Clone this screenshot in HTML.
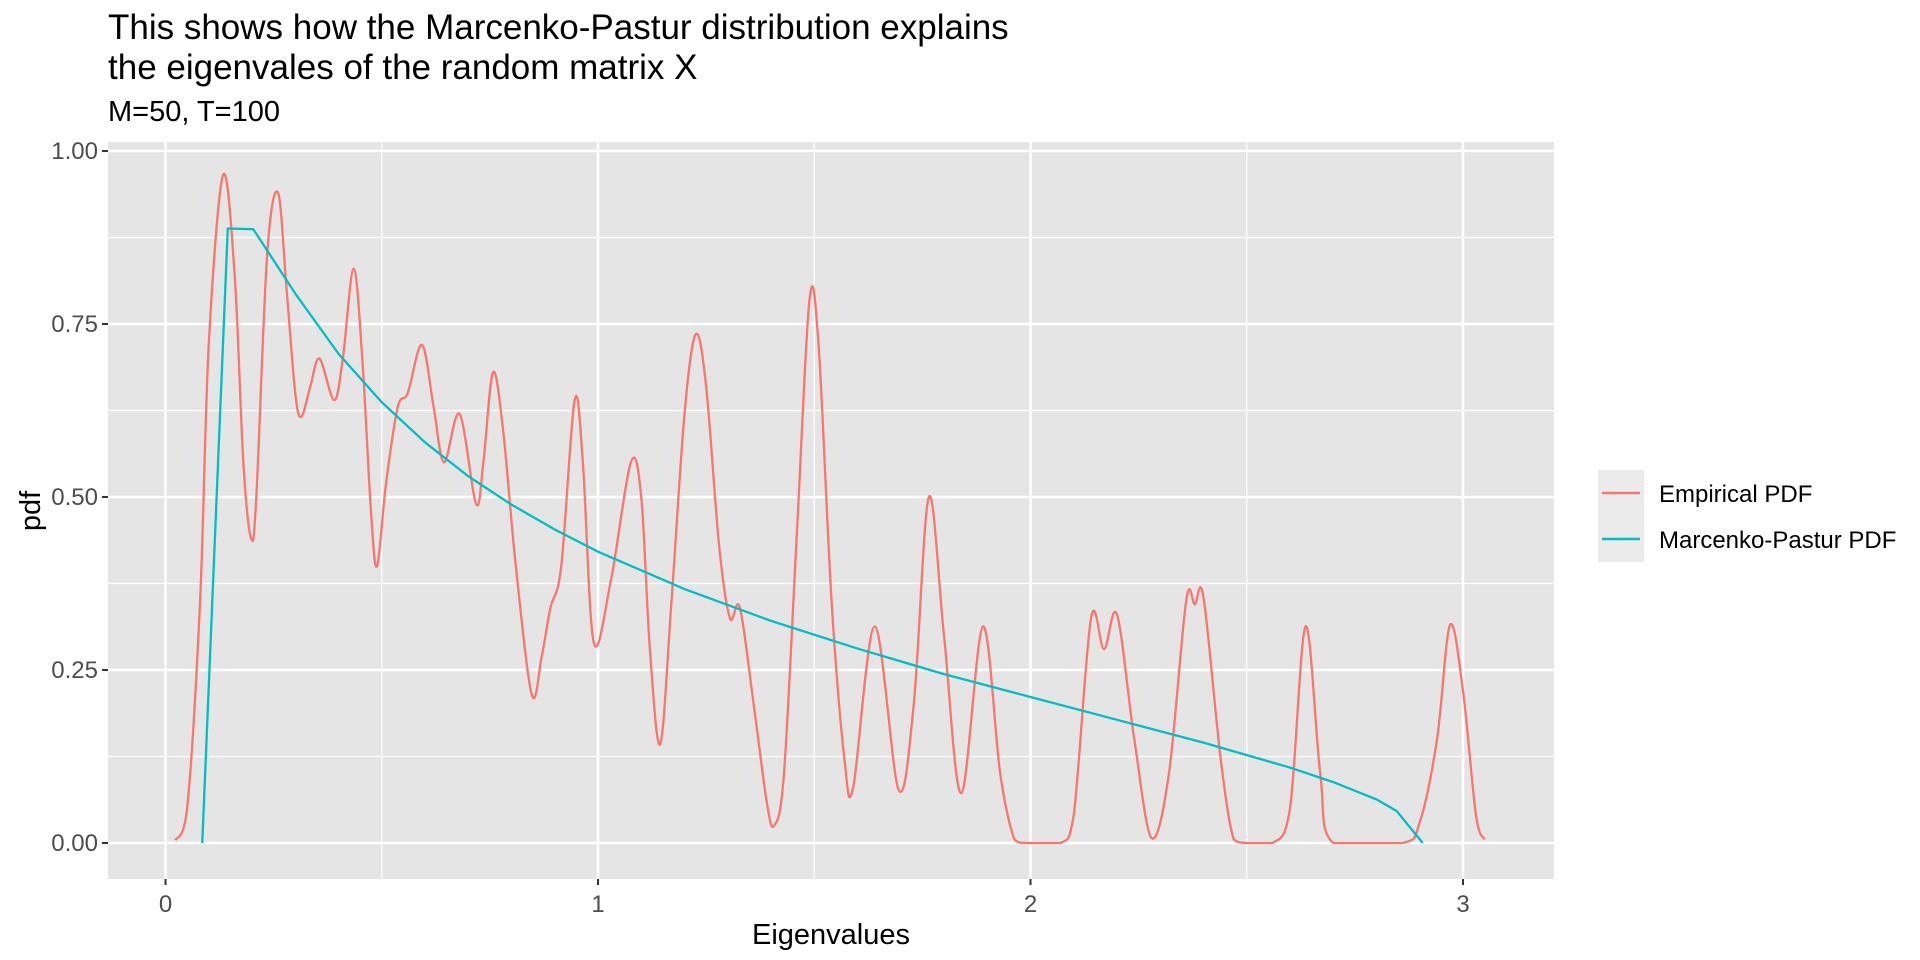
<!DOCTYPE html>
<html><head><meta charset="utf-8"><style>
body{margin:0;background:#fff;}
svg{display:block;font-family:"Liberation Sans",Arial,sans-serif;}
</style></head><body>
<svg id="chart" width="1920" height="960" viewBox="0 0 1920 960">
<text x="108" y="39" font-size="35" fill="#000">This shows how the Marcenko-Pastur distribution explains</text>
<text x="108" y="79" font-size="35" fill="#000">the eigenvales of the random matrix X</text>
<text x="108" y="121" font-size="29" fill="#000">M=50, T=100</text>
<rect x="108" y="142" width="1446" height="737" fill="#e5e5e5"/>
<g id="grid"></g>
<g id="axes"></g>
<g id="series"></g>
<text x="831" y="944" font-size="29" text-anchor="middle" fill="#000">Eigenvalues</text>
<text x="0" y="0" font-size="29" text-anchor="middle" fill="#000" transform="translate(40,511) rotate(-90)">pdf</text>
<g>
<rect x="1598" y="470" width="46" height="92" fill="#ebebeb"/>
<line x1="1602" y1="493" x2="1640" y2="493" stroke="#F8766D" stroke-width="2.5"/>
<line x1="1602" y1="539" x2="1640" y2="539" stroke="#00BFC4" stroke-width="2.5"/>
<text x="1659" y="502" font-size="24" fill="#000">Empirical PDF</text>
<text x="1659" y="548" font-size="24" fill="#000">Marcenko-Pastur PDF</text>
</g>
</svg>
<script>
const xTicks=[0,1,2,3];
const xTickLabels=["0","1","2","3"];
const xMinor=[0.5,1.5,2.5];
const yTicks=[0,0.25,0.5,0.75,1];
const yTickLabels=["0.00","0.25","0.50","0.75","1.00"];
const yMinor=[0.125,0.375,0.625,0.875];
const empX=[0.023,0.05,0.08,0.1,0.133,0.16,0.18,0.198,0.21,0.235,0.26,0.28,0.3,0.314,0.335,0.356,0.39,0.41,0.435,0.455,0.475,0.489,0.51,0.537,0.56,0.593,0.62,0.644,0.68,0.718,0.735,0.757,0.78,0.81,0.847,0.87,0.89,0.915,0.946,0.965,0.99,1.03,1.076,1.1,1.12,1.144,1.17,1.2,1.226,1.25,1.28,1.305,1.328,1.36,1.39,1.407,1.43,1.46,1.489,1.51,1.54,1.57,1.59,1.64,1.695,1.73,1.765,1.8,1.84,1.89,1.93,1.963,1.99,2.07,2.1,2.14,2.17,2.2,2.24,2.28,2.32,2.36,2.38,2.40,2.44,2.47,2.5,2.56,2.6,2.636,2.67,2.70,2.86,2.9,2.94,2.97,3.0,3.03,3.05];
const empY=[0.004,0.05,0.35,0.72,0.965,0.82,0.55,0.44,0.5,0.85,0.94,0.8,0.65,0.616,0.66,0.70,0.64,0.7,0.83,0.7,0.48,0.40,0.52,0.63,0.65,0.72,0.63,0.55,0.62,0.49,0.55,0.68,0.6,0.4,0.214,0.27,0.34,0.4,0.64,0.55,0.29,0.38,0.55,0.5,0.28,0.143,0.35,0.62,0.735,0.66,0.43,0.325,0.34,0.2,0.06,0.025,0.1,0.45,0.785,0.72,0.35,0.12,0.08,0.313,0.077,0.2,0.50,0.3,0.072,0.313,0.1,0.005,0,0,0.04,0.325,0.28,0.33,0.15,0.007,0.1,0.35,0.345,0.355,0.12,0.005,0,0,0.05,0.313,0.1,0,0,0.03,0.15,0.315,0.22,0.04,0.005];
const mpX=[0.085,0.144,0.203,0.25,0.3,0.4,0.5,0.6,0.7,0.8,0.9,1.0,1.2,1.4,1.6,1.8,2.0,2.2,2.4,2.6,2.7,2.8,2.847,2.907];
const mpY=[0,0.888,0.887,0.842,0.794,0.707,0.637,0.579,0.530,0.489,0.453,0.421,0.367,0.321,0.281,0.244,0.211,0.178,0.145,0.109,0.088,0.063,0.046,0];

const NS="http://www.w3.org/2000/svg";
const PL=108,PR=1554,PT=142,PB=879;
const X=v=>165.5+v*432.5;
const Y=v=>843-v*692;
function mk(tag,attrs,parent){const e=document.createElementNS(NS,tag);for(const k in attrs)e.setAttribute(k,attrs[k]);parent.appendChild(e);return e;}
const grid=document.getElementById('grid'),axes=document.getElementById('axes'),series=document.getElementById('series');
xMinor.forEach(v=>{const l=mk('line',{x1:X(v),x2:X(v),y1:PT,y2:PB,stroke:'#fff','stroke-width':1.2},grid);

});
yMinor.forEach(v=>{const l=mk('line',{x1:PL,x2:PR,y1:Y(v),y2:Y(v),stroke:'#fff','stroke-width':1.2},grid);

});
xTicks.forEach((v,i)=>{const l=mk('line',{x1:X(v),x2:X(v),y1:PT,y2:PB,stroke:'#fff','stroke-width':2.5},grid);


const t=mk('line',{x1:X(v),x2:X(v),y1:PB,y2:PB+6,stroke:'#333','stroke-width':2},axes);


const tx=mk('text',{x:X(v),y:912,'font-size':24,'text-anchor':'middle',fill:'#4d4d4d'},axes);tx.textContent=xTickLabels[i];

});
yTicks.forEach((v,i)=>{const l=mk('line',{x1:PL,x2:PR,y1:Y(v),y2:Y(v),stroke:'#fff','stroke-width':2.5},grid);


const t=mk('line',{x1:PL-6,x2:PL,y1:Y(v),y2:Y(v),stroke:'#333','stroke-width':2},axes);


const tx=mk('text',{x:PL-10,y:Y(v)+8,'font-size':24,'text-anchor':'end',fill:'#4d4d4d'},axes);tx.textContent=yTickLabels[i];

});
function smooth(xs,ys){const p=xs.map((x,i)=>[X(x),Y(ys[i])]);let d='M'+p[0][0]+','+p[0][1];
for(let i=0;i<p.length-1;i++){const p0=p[Math.max(0,i-1)],p1=p[i],p2=p[i+1],p3=p[Math.min(p.length-1,i+2)];
const c1=[p1[0]+(p2[0]-p0[0])/6,p1[1]+(p2[1]-p0[1])/6],c2=[p2[0]-(p3[0]-p1[0])/6,p2[1]-(p3[1]-p1[1])/6];
c1[1]=Math.min(c1[1],Y(0));c2[1]=Math.min(c2[1],Y(0));
d+=' C'+c1[0]+','+c1[1]+' '+c2[0]+','+c2[1]+' '+p2[0]+','+p2[1];}return d;}
const e=mk('path',{d:smooth(empX,empY),fill:'none',stroke:'#F8766D','stroke-width':2.3,'stroke-linejoin':'round'},series);


const m=mk('polyline',{points:mpX.map((x,i)=>X(x)+','+Y(mpY[i])).join(' '),fill:'none',stroke:'#00BFC4','stroke-width':2.3,'stroke-linejoin':'round'},series);


</script>
</body></html>
